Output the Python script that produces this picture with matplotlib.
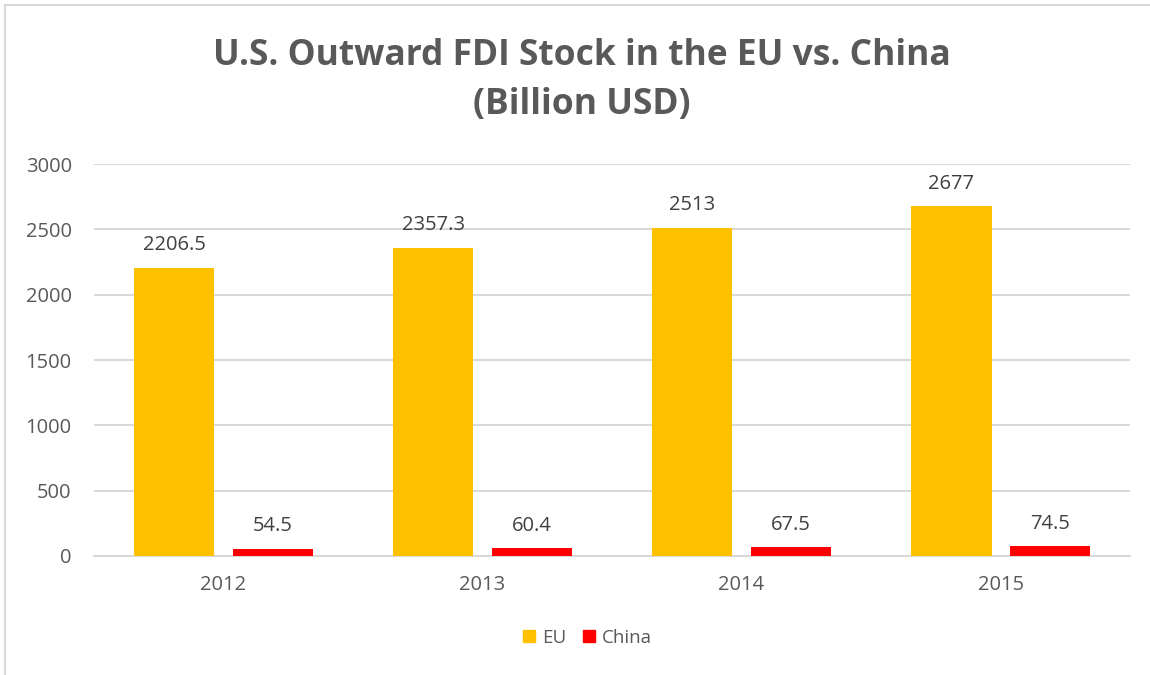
import numpy as np
import matplotlib.pyplot as plt
from matplotlib.lines import Line2D

years = ["2012", "2013", "2014", "2015"]
eu = [2206.5, 2357.3, 2513, 2677]
china = [54.5, 60.4, 67.5, 74.5]
eu_labels = ["2206.5", "2357.3", "2513", "2677"]
china_labels = ["54.5", "60.4", "67.5", "74.5"]

plt.rcParams['font.family'] = ['Open Sans', 'DejaVu Sans']
grey = "#595959"

fig = plt.figure(figsize=(11.5, 6.75), dpi=100)
ax = fig.add_axes([0.0817, 0.1763, 0.901, 0.5807])

x = np.arange(len(years))
w = 0.31
b1 = ax.bar(x - 0.19, eu, w, color="#FFC000", label="EU", zorder=3)
b2 = ax.bar(x + 0.19, china, w, color="#FF0000", label="China", zorder=3)

for rect, lab in zip(b1, eu_labels):
    ax.annotate(lab, (rect.get_x() + rect.get_width() / 2, rect.get_height()),
                xytext=(0, 9), textcoords="offset points", ha="center", va="bottom",
                fontsize=14.5, color="#404040")
for rect, lab in zip(b2, china_labels):
    ax.annotate(lab, (rect.get_x() + rect.get_width() / 2, rect.get_height()),
                xytext=(0, 9), textcoords="offset points", ha="center", va="bottom",
                fontsize=14.5, color="#404040")

ax.set_xlim(-0.5, 3.5)
ax.set_ylim(0, 3000)
ax.set_yticks(range(0, 3001, 500))
ax.set_xticks(x)
ax.set_xticklabels(years)
ax.yaxis.grid(True, color="#d9d9d9", linewidth=1.5, zorder=0)
for s in ["top", "right", "left"]:
    ax.spines[s].set_visible(False)
ax.spines["bottom"].set_color("#d9d9d9")
ax.spines["bottom"].set_linewidth(1.5)
ax.tick_params(axis="both", length=0, labelsize=14.5, labelcolor=grey)
ax.tick_params(axis="y", pad=16)
ax.tick_params(axis="x", pad=14)

fig.text(0.506, 0.881, "U.S. Outward FDI Stock in the EU vs. China\n(Billion USD)",
         ha="center", va="center", fontsize=25.5, fontweight="bold", color=grey,
         linespacing=1.5)

handles = [Line2D([], [], marker="s", linestyle="", markersize=9, color="#FFC000"),
           Line2D([], [], marker="s", linestyle="", markersize=9, color="#FF0000")]
fig.legend(handles, ["EU", "China"], loc="center", bbox_to_anchor=(0.508, 0.055),
           ncol=2, frameon=False, fontsize=13.5, labelcolor=grey,
           handletextpad=0.0, columnspacing=0.5, handlelength=1.4)

# light frame around the chart area
fig.add_artist(Line2D([0.0045, 0.0045], [0, 0.993], color="#d9d9d9", linewidth=1.5))
fig.add_artist(Line2D([0.0045, 1], [0.993, 0.993], color="#d9d9d9", linewidth=1.5))

fig.savefig("out.png", dpi=100)
